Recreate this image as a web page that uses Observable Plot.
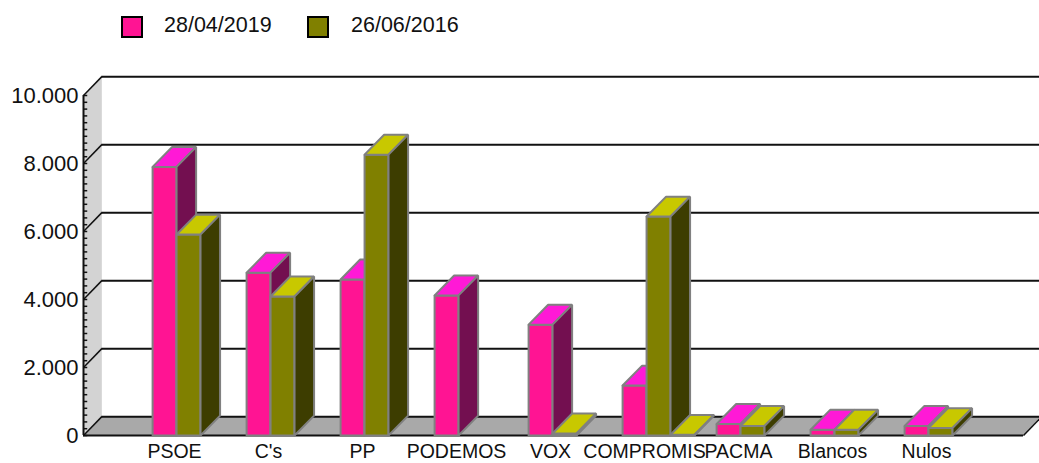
<!DOCTYPE html>
<html><head><meta charset="utf-8">
<script src="https://cdn.jsdelivr.net/npm/d3@7"></script>
<script src="https://cdn.jsdelivr.net/npm/@observablehq/plot@0.6"></script>
<style>
html,body{margin:0;padding:0;background:#fff}
#legend{position:relative;height:50px;width:1039px;font:21.5px "Liberation Sans",Arial,sans-serif;color:#111}
#legend .sw{position:absolute;top:16px;width:18px;height:18px;border:2px solid #000}
#legend .tx{position:absolute;top:13px;line-height:25px}
svg{display:block}
</style></head><body>
<div id="legend"></div>
<div id="chart"></div>
<script>
const categories = ["PSOE","C's","PP","PODEMOS","VOX","COMPROMIS","PACMA","Blancos","Nulos"];
const votes2019 = [7900,4790,4590,4120,3260,1470,340,170,280];
const votes2016 = [5910,4090,8260,null,60,6440,280,170,220];
const seriesNames = ["28/04/2019","26/06/2016"];
const strayCategory = 6, strayOffset = 1, strayValue = 20; // flat extra olive block beside COMPROMIS
const yTicks = [0,2000,4000,6000,8000,10000];
const minorTicks = d3.range(0,10001,200);

const pink = {front:"#FF1493", top:"#FF19D6", side:"#730F50"};
const olive = {front:"#808000", top:"#C8C800", side:"#3D3D00"};
const DX = 0.195, DY = 555, BW = 0.255, BDX = 0.208, BDY = 585, SHIFT = -0.01;

// legend
const legend = document.getElementById("legend");
[[121,164,pink.front],[307,351,olive.front]].forEach(([sx,tx,c],i)=>{
  const s=document.createElement("div");s.className="sw";s.style.left=sx+"px";s.style.background=c;legend.appendChild(s);
  const t=document.createElement("div");t.className="tx";t.style.left=tx+"px";t.textContent=seriesNames[i];legend.appendChild(t);
});

const poly = (pts)=>pts.map(([x,y])=>({x,y}));
const face = (pts,fill)=>Plot.line(poly([...pts,pts[0]]),{x:"x",y:"y",fill,stroke:"#808080",strokeWidth:2,strokeLinejoin:"miter",curve:"linear"});
function bar(x0,v,c){
  const x1=x0+BW;
  return [
    face([[x0,0],[x1,0],[x1,v],[x0,v]],c.front),
    face([[x0,v],[x1,v],[x1+BDX,v+BDY],[x0+BDX,v+BDY]],c.top),
    face([[x1,0],[x1+BDX,BDY],[x1+BDX,v+BDY],[x1,v]],c.side)
  ];
}
const bars=[];
categories.forEach((_,i)=>{
  const c=i+1+SHIFT;
  bars.push(...bar(c-BW,votes2019[i],pink));
  if(votes2016[i]!=null) bars.push(...bar(c,votes2016[i],olive));
  if(i+1===strayCategory) bars.push(...bar(c+strayOffset*BW,strayValue,olive));
});

const plot = Plot.plot({
  width:1039,height:413,marginLeft:83,marginRight:16,marginTop:45,marginBottom:28,
  style:{background:"#fff",overflow:"hidden"},
  x:{domain:[0,10],axis:null},
  y:{domain:[0,10000],axis:null},
  marks:[
    Plot.line(poly([[0,0],[DX,DY],[DX,10000+DY],[0,10000],[0,0]]),{x:"x",y:"y",fill:"#D3D3D3",stroke:"none"}),
    Plot.line(poly([[0,0],[DX,DY],[10+DX,DY],[10,0],[0,0]]),{x:"x",y:"y",fill:"#A9A9A9",stroke:"none"}),
    Plot.ruleY(yTicks,{y:d=>d+DY,x1:DX,x2:10.4,stroke:"#111",strokeWidth:2}),
    Plot.ruleY([0],{x1:0,x2:10,stroke:"#111",strokeWidth:2}),
    Plot.link(yTicks,{x1:0,y1:d=>d,x2:DX,y2:d=>d+DY,stroke:"#111",strokeWidth:1.5}),
    Plot.link([0],{x1:10,y1:0,x2:10+DX,y2:DY,stroke:"#111",strokeWidth:1.5}),
    Plot.ruleX([0],{y1:0,y2:10000,stroke:"#111",strokeWidth:2}),
    Plot.ruleY(minorTicks,{x1:0,x2:0.045,stroke:"#111",strokeWidth:1.5}),
    ...bars,
    Plot.axisY(yTicks,{anchor:"left",tickSize:0,tickPadding:5,fontSize:22,fontFamily:"Liberation Sans",fill:"#111",label:null,
      tickFormat:d=>d3.format(",")(d).replace(/,/g,".")}),
    Plot.axisX(d3.range(1,10),{anchor:"bottom",tickSize:0,tickPadding:9,fontSize:19.5,fontFamily:"Liberation Sans",fill:"#111",label:null,dx:-3,
      tickFormat:d=>categories[d-1]})
  ]
});
document.getElementById("chart").appendChild(plot);
</script>
</body></html>
